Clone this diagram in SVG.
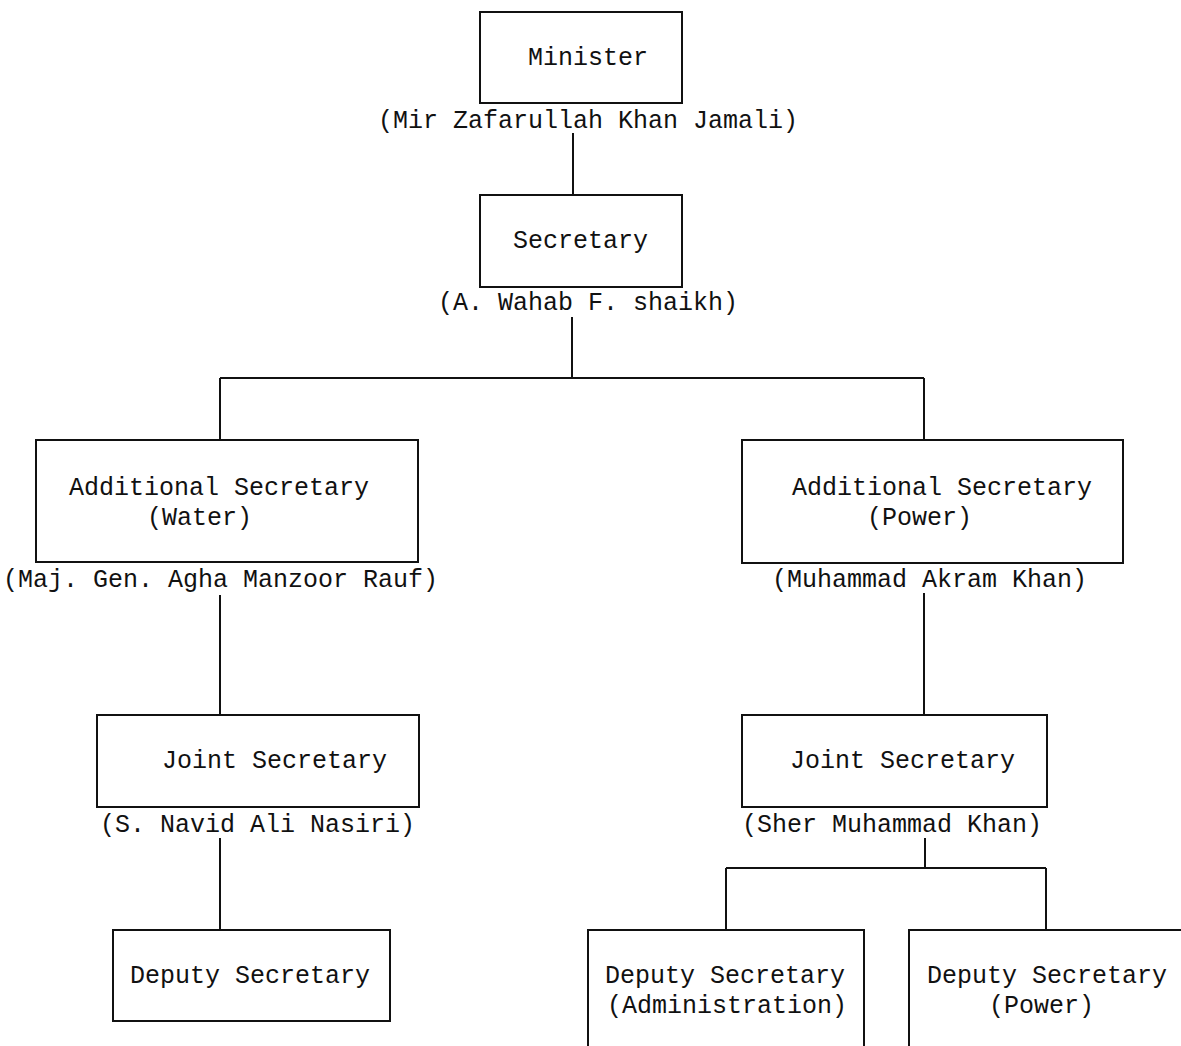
<svg xmlns="http://www.w3.org/2000/svg" width="1181" height="1046" viewBox="0 0 1181 1046">
<style>
.box{fill:none;stroke:#111;stroke-width:2}
.ln{fill:none;stroke:#111;stroke-width:2}
text{font-family:"Liberation Mono","Courier New",monospace;font-size:25px;fill:#111}
</style>
<rect width="1181" height="1046" fill="#fff"/>
<g id="connectors">
<path class="ln" d="M573 133V195"/>
<path class="ln" d="M572 317V378M220 378H924M220 378V440M924 378V440"/>
<path class="ln" d="M220 595V715"/>
<path class="ln" d="M924 593V715"/>
<path class="ln" d="M220 838V930"/>
<path class="ln" d="M925 838V868M726 868H1046M726 868V930M1046 868V930"/>
</g>
<g id="minister">
<rect class="box" x="480" y="12" width="202" height="91"/>
<text x="528" y="65">Minister</text>
<text x="378" y="128">(Mir Zafarullah Khan Jamali)</text>
</g>
<g id="secretary">
<rect class="box" x="480" y="195" width="202" height="92"/>
<text x="513" y="248">Secretary</text>
<text x="438" y="310">(A. Wahab F. shaikh)</text>
</g>
<g id="addl-water">
<rect class="box" x="36" y="440" width="382" height="122"/>
<text x="69" y="495">Additional Secretary</text>
<text x="147" y="525">(Water)</text>
<text x="3" y="587">(Maj. Gen. Agha Manzoor Rauf)</text>
</g>
<g id="addl-power">
<rect class="box" x="742" y="440" width="381" height="123"/>
<text x="792" y="495">Additional Secretary</text>
<text x="867" y="525">(Power)</text>
<text x="772" y="587">(Muhammad Akram Khan)</text>
</g>
<g id="joint-water">
<rect class="box" x="97" y="715" width="322" height="92"/>
<text x="162" y="768">Joint Secretary</text>
<text x="100" y="832">(S. Navid Ali Nasiri)</text>
</g>
<g id="joint-power">
<rect class="box" x="742" y="715" width="305" height="92"/>
<text x="790" y="768">Joint Secretary</text>
<text x="742" y="832">(Sher Muhammad Khan)</text>
</g>
<g id="deputy-water">
<rect class="box" x="113" y="930" width="277" height="91"/>
<text x="130" y="983">Deputy Secretary</text>
</g>
<g id="deputy-admin">
<rect class="box" x="588" y="930" width="276" height="130"/>
<text x="605" y="983">Deputy Secretary</text>
<text x="607" y="1013">(Administration)</text>
</g>
<g id="deputy-power">
<rect class="box" x="909" y="930" width="300" height="130"/>
<text x="927" y="983">Deputy Secretary</text>
<text x="989" y="1013">(Power)</text>
</g>
</svg>
